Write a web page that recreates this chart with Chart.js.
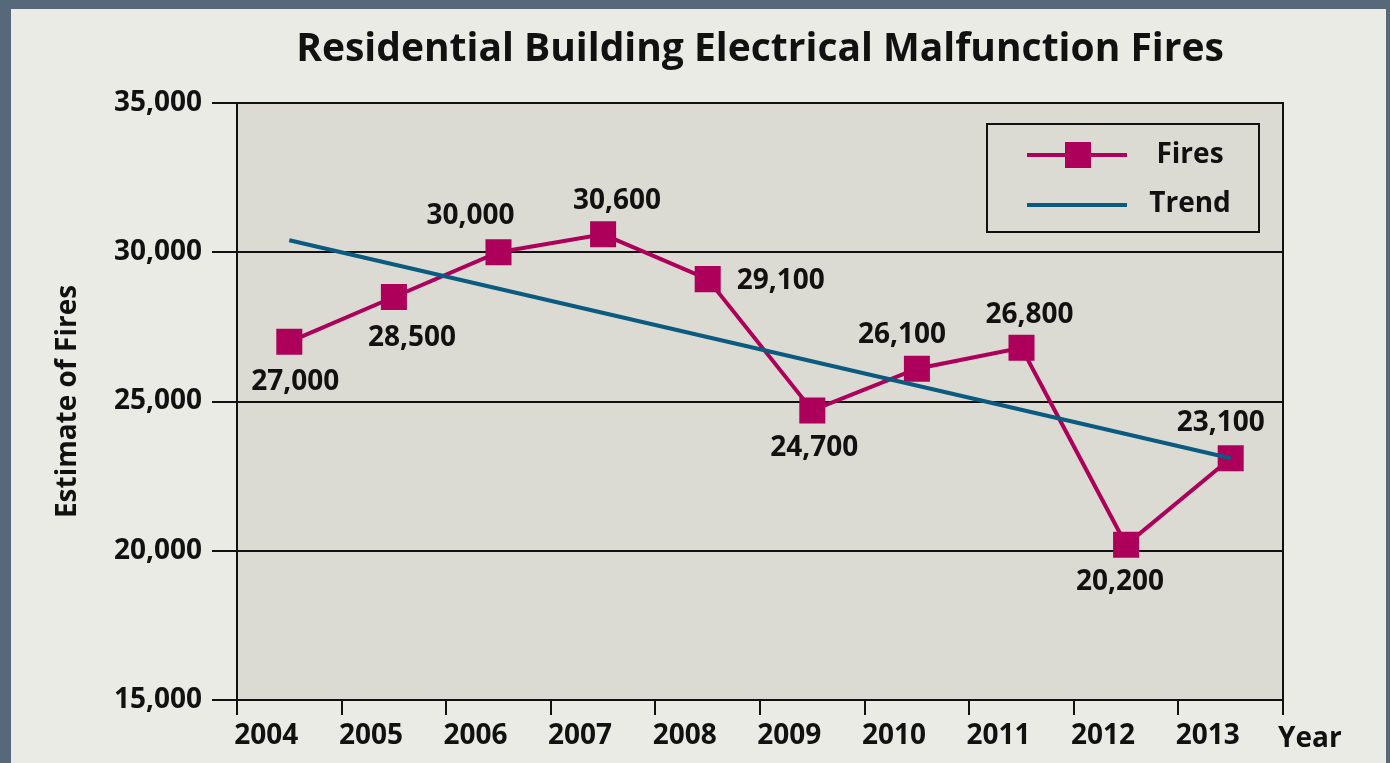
<!DOCTYPE html>
<html><head><meta charset="utf-8">
<script src="https://cdn.jsdelivr.net/npm/chart.js@4"></script>
<style>
html,body{margin:0;padding:0;width:1390px;height:763px;overflow:hidden;background:#56697a;}
#wrap{position:absolute;left:11px;top:9px;width:1375px;height:754px;background:#ebebe6;}
canvas{display:block;}
</style></head><body>
<div id="wrap"><canvas id="c"></canvas></div>
<script>
const years = ['2004','2005','2006','2007','2008','2009','2010','2011','2012','2013'];
const fires = [27000, 28500, 30000, 30600, 29100, 24700, 26100, 26800, 20200, 23100];
const trend = [30400, null, null, null, null, null, null, null, null, 23100];
const yTicks = [15000, 20000, 25000, 30000, 35000];
const chartTitle = 'Residential Building Electrical Malfunction Fires';
const yTitle = 'Estimate of Fires';
const xTitle = 'Year';
const seriesNames = ['Fires', 'Trend'];
// placement of value labels relative to their point (px)
const labelDX = [6, 18, -28, 14, 73, 2, -15, 8, -6, -10];
const labelDY = [38, 39, -38, -35, 0, 36, -36, -35, 35, -37];

const FONT = '"Open Sans", "DejaVu Sans", sans-serif';
const INK = '#111111';
const MAGENTA = '#ad005a';
const TEAL = '#0b5a80';
const PLOT_BG = '#dcdbd3';

const decor = {
  id: 'decor',
  beforeDraw(chart) {
    const {ctx, chartArea: a} = chart;
    ctx.save();
    ctx.fillStyle = PLOT_BG;
    ctx.fillRect(a.left, a.top, a.right - a.left, a.bottom - a.top);
    ctx.restore();
  },
  afterDatasetsDraw(chart) {
    const {ctx} = chart;
    const meta = chart.getDatasetMeta(1);
    ctx.save();
    ctx.font = 'bold 28px ' + FONT;
    ctx.fillStyle = INK;
    ctx.textAlign = 'center';
    ctx.textBaseline = 'alphabetic';
    meta.data.forEach((pt, i) => {
      const txt = fires[i].toLocaleString('en-US');
      ctx.fillText(txt, pt.x + labelDX[i], pt.y + labelDY[i] + 10);
    });
    ctx.restore();
  },
  afterDraw(chart) {
    const {ctx, chartArea: a} = chart;
    ctx.save();
    // right frame edge
    ctx.strokeStyle = INK; ctx.lineWidth = 2;
    ctx.beginPath(); ctx.moveTo(a.right, a.top - 1); ctx.lineTo(a.right, a.bottom + 1); ctx.stroke();
    // title
    ctx.fillStyle = INK;
    ctx.textAlign = 'center'; ctx.textBaseline = 'alphabetic';
    ctx.font = 'bold 39px ' + FONT;
    ctx.fillText(chartTitle, (a.left + a.right) / 2, 52);
    // y title
    ctx.save();
    ctx.translate(57, (a.top + a.bottom) / 2);
    ctx.rotate(-Math.PI / 2);
    ctx.font = 'bold 28px ' + FONT;
    ctx.textBaseline = 'middle';
    ctx.fillText(yTitle, 0, 0);
    ctx.restore();
    // x title
    ctx.textAlign = 'left';
    ctx.font = 'bold 28px ' + FONT;
    ctx.fillText(xTitle, a.right - 5, 738);
    // legend
    const bx = a.right - 296, by = a.top + 21, bw = 272, bh = 108;
    ctx.fillStyle = PLOT_BG;
    ctx.fillRect(bx, by, bw, bh);
    ctx.strokeStyle = INK; ctx.lineWidth = 2;
    ctx.strokeRect(bx, by, bw, bh);
    const y1 = by + 31, y2 = by + 81;
    ctx.lineWidth = 4;
    ctx.strokeStyle = MAGENTA;
    ctx.beginPath(); ctx.moveTo(bx + 40, y1); ctx.lineTo(bx + 140, y1); ctx.stroke();
    ctx.fillStyle = MAGENTA;
    ctx.fillRect(bx + 78, y1 - 13, 26, 26);
    ctx.strokeStyle = TEAL;
    ctx.beginPath(); ctx.moveTo(bx + 40, y2); ctx.lineTo(bx + 140, y2); ctx.stroke();
    ctx.fillStyle = INK;
    ctx.textAlign = 'center';
    ctx.font = 'bold 28px ' + FONT;
    ctx.fillText(seriesNames[0], bx + 203, y1 + 8);
    ctx.fillText(seriesNames[1], bx + 203, y2 + 7);
    ctx.restore();
  }
};

function build() {
  new Chart(document.getElementById('c'), {
    type: 'line',
    data: {
      labels: years,
      datasets: [
        {
          label: seriesNames[1], data: trend, order: 0, spanGaps: true,
          borderColor: TEAL, borderWidth: 4, pointRadius: 0, tension: 0, fill: false
        },
        {
          label: seriesNames[0], data: fires, order: 1,
          borderColor: MAGENTA, borderWidth: 4, tension: 0, fill: false,
          pointStyle: 'rect', pointRadius: 18.4, pointBackgroundColor: MAGENTA,
          pointBorderWidth: 0, pointBorderColor: MAGENTA
        }
      ]
    },
    options: {
      responsive: true, maintainAspectRatio: false, animation: false, events: [],
      layout: {padding: {top: 94, right: 103, left: 0, bottom: 0}},
      plugins: {legend: {display: false}, title: {display: false}, tooltip: {enabled: false}},
      scales: {
        x: {
          type: 'category', offset: true,
          grid: {offset: true, drawOnChartArea: false, drawTicks: true, tickLength: 15, color: INK, lineWidth: 2},
          border: {color: INK, width: 2},
          ticks: {font: {family: FONT, size: 28, weight: 'bold'}, color: INK, labelOffset: -23, padding: 4, maxRotation: 0, autoSkip: false},
          afterFit(s) { s.height = 63; }
        },
        y: {
          min: yTicks[0], max: yTicks[yTicks.length - 1],
          afterBuildTicks(s) { s.ticks = yTicks.map(v => ({value: v})); },
          grid: {color: INK, lineWidth: 2, tickLength: 25},
          border: {color: INK, width: 2},
          ticks: {font: {family: FONT, size: 28, weight: 'bold'}, color: INK, padding: 10,
                  callback: v => Number(v).toLocaleString('en-US')},
          afterFit(s) { s.width = 226; }
        }
      }
    },
    plugins: [decor]
  });
}
if (document.fonts && document.fonts.load) {
  document.fonts.load('bold 28px "Open Sans"').then(build, build);
} else { build(); }
</script>
</body></html>
